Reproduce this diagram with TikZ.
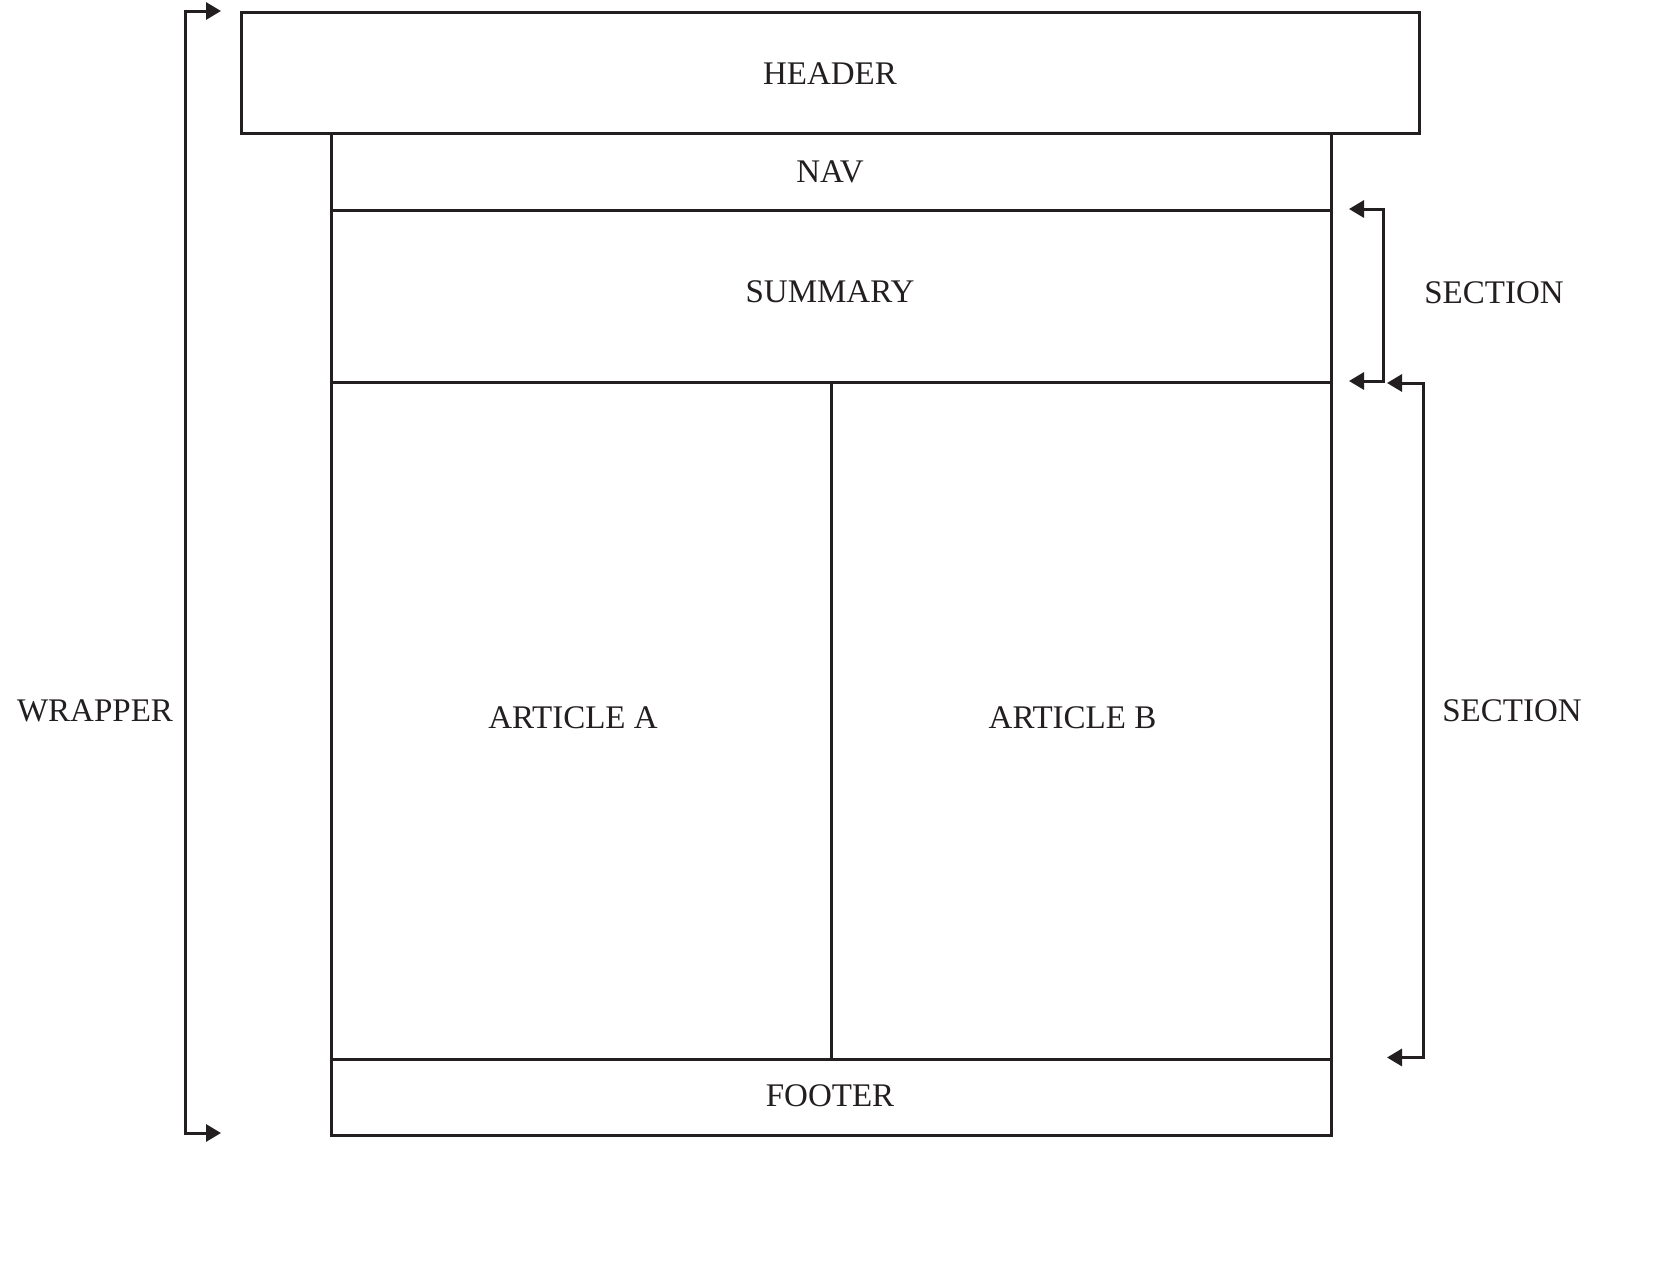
\documentclass[tikz,border=0pt]{standalone}
\usepackage{fontspec}
\setmainfont{Liberation Serif}
\usetikzlibrary{arrows.meta}
\definecolor{ink}{HTML}{231F20}
\begin{document}
\begin{tikzpicture}[x=1pt,y=-1pt,
  lw/.style={line width=3pt},
  box/.style={draw=ink,lw,rectangle,anchor=north west,inner sep=0pt},
  lbl/.style={font=\fontsize{33}{36}\selectfont,text=ink,inner sep=0pt},
  brace/.style={draw=ink,lw,{Triangle[length=15pt,width=17pt]}-{Triangle[length=15pt,width=17pt]}}]
\useasboundingbox[fill=white] (0,0) rectangle (1660,1269);

% page blocks
\node[box,minimum width=1178pt,minimum height=121pt] (header) at (240,11) {};
\node[box,minimum width=1000pt,minimum height=77pt] (nav) at (330,132) {};
\node[box,minimum width=1000pt,minimum height=172pt] (summary) at (330,209) {};
\node[box,minimum width=500pt,minimum height=676.5pt] (arta) at (330,381) {};
\node[box,minimum width=500pt,minimum height=676.5pt] (artb) at (830,381) {};
\node[box,minimum width=1000pt,minimum height=76pt] (footer) at (330,1057.5) {};

% block titles
\node[lbl] (theader) at (830,73.5) {HEADER};
\node[lbl] (tnav) at (830,171.5) {NAV};
\node[lbl] (tsummary) at (830,292) {SUMMARY};
\node[lbl] (tarta) at (573,718) {ARTICLE A};
\node[lbl] (tartb) at (1072.5,718) {ARTICLE B};
\node[lbl] (tfooter) at (830,1096) {FOOTER};

% bracket end points
\coordinate (wtop) at (221,11);
\coordinate (wbot) at (221,1133);
\coordinate (s1top) at (1349,209);
\coordinate (s1bot) at (1349,381);
\coordinate (s2top) at (1387,383);
\coordinate (s2bot) at (1387,1057.5);

% brackets
\draw[brace] (wtop) -- (185,11) -- (185,1133) -- (wbot);
\draw[brace] (s1top) -- (1383,209) -- (1383,381) -- (s1bot);
\draw[brace] (s2top) -- (1423,383) -- (1423,1057.5) -- (s2bot);

% bracket labels
\node[lbl] (wrapper) at (95,711) {WRAPPER};
\node[lbl] (sec1) at (1494,293) {SECTION};
\node[lbl] (sec2) at (1512,711) {SECTION};
\end{tikzpicture}
\end{document}
